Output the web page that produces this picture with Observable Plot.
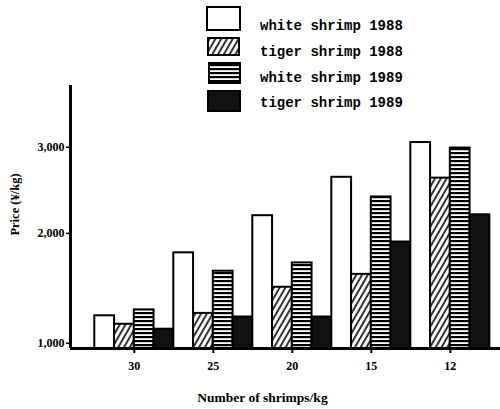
<!DOCTYPE html>
<html>
<head>
<meta charset="utf-8">
<script src="https://cdn.jsdelivr.net/npm/d3@7"></script>
<script src="https://cdn.jsdelivr.net/npm/@observablehq/plot@0.6"></script>
<style>
  body { margin: 0; background: #fff; }
  #wrap { position: relative; width: 500px; height: 409px; }
  #legend { position: absolute; left: 0; top: 0; }
</style>
</head>
<body>
<div id="wrap"></div>
<script>
// ---- data ----
const groups = ["30", "25", "20", "15", "12"];            // number of shrimps/kg
const series = ["white shrimp 1988", "tiger shrimp 1988", "white shrimp 1989", "tiger shrimp 1989"];
const white1988 = [1220, 1800, 2190, 2630, 3060];
const tiger1988 = [1150, 1240, 1470, 1590, 2620];
const white1989 = [1270, 1620, 1700, 2400, 2990];
const tiger1989 = [1110, 1210, 1210, 1910, 2200];
const yTicks = [1000, 2000, 3000];
const xLabel = "Number of shrimps/kg";
const yLabel = "Price (¥/kg)";

// ---- build table ----
const valuesBySeries = [white1988, tiger1988, white1989, tiger1989];
const rows = [];
groups.forEach((g, gi) => {
  series.forEach((s, si) => {
    rows.push({group: g, series: s, slot: gi * series.length + si, value: valuesBySeries[si][gi]});
  });
});
const tickSlots = groups.map((g, gi) => gi * series.length + series.length / 2);

const yMin = 960, yMax = 3830;
const xMin = -1.23, xMax = 20.54;
const fills = ["white", "url(#diag)", "url(#horiz)", "#111"];

const wrap = document.getElementById("wrap");

// ---- chart ----
const chart = Plot.plot({
  width: 500,
  height: 409,
  marginLeft: 70,
  marginRight: 0,
  marginTop: 85,
  marginBottom: 61,
  style: {fontFamily: "'Liberation Serif', serif", background: "white", color: "black"},
  x: {type: "linear", domain: [xMin, xMax]},
  y: {type: "pow", exponent: 0.54, domain: [yMin, yMax]},
  color: {type: "ordinal", domain: series, range: fills},
  marks: [
    Plot.rect(rows, {
      x1: d => d.slot, x2: d => d.slot + 1,
      y1: () => yMin, y2: "value",
      fill: "series", stroke: "black", strokeWidth: 2
    }),
    Plot.ruleX([xMin], {strokeWidth: 3}),
    Plot.ruleY([yMin], {strokeWidth: 3}),
    Plot.axisY({
      ticks: yTicks, tickFormat: d3.format(","), tickSize: 4, tickPadding: 2,
      fontSize: 12, fontWeight: "bold", label: null, strokeWidth: 1.5
    }),
    Plot.axisX({
      ticks: tickSlots,
      tickFormat: v => groups[Math.round((v - series.length / 2) / series.length)],
      tickSize: 5, tickPadding: 8, fontSize: 12, fontWeight: "bold", label: null, strokeWidth: 2
    }),
    Plot.text([xLabel], {
      text: d => d, frameAnchor: "bottom", lineAnchor: "middle", textAnchor: "middle",
      dx: -23, dy: 49, fontSize: 13.5, fontWeight: "bold"
    }),
    Plot.text([yLabel], {
      text: d => d, frameAnchor: "left", lineAnchor: "middle", textAnchor: "middle", rotate: -90,
      dx: -56, dy: -12.5, fontSize: 12.5, fontWeight: "bold"
    })
  ]
});
wrap.appendChild(chart);

// ---- legend (with pattern defs) ----
const leg = d3.select(wrap).append("svg")
  .attr("id", "legend").attr("width", 500).attr("height", 116);
const defs = leg.append("defs");
const pd = defs.append("pattern").attr("id", "diag")
  .attr("patternUnits", "userSpaceOnUse").attr("width", 5).attr("height", 5)
  .attr("patternTransform", "rotate(30)");
pd.append("rect").attr("width", 5).attr("height", 5).attr("fill", "white");
pd.append("line").attr("x1", 1).attr("x2", 1).attr("y1", 0).attr("y2", 5)
  .attr("stroke", "black").attr("stroke-width", 1.6);
const ph = defs.append("pattern").attr("id", "horiz")
  .attr("patternUnits", "userSpaceOnUse").attr("width", 8).attr("height", 4);
ph.append("rect").attr("width", 8).attr("height", 4).attr("fill", "white");
ph.append("rect").attr("y", 0).attr("width", 8).attr("height", 2.2).attr("fill", "black");

const boxes = [
  {x: 207, y: 7, w: 33, h: 23},
  {x: 208, y: 38, w: 31, h: 17},
  {x: 209, y: 63, w: 31, h: 20},
  {x: 208, y: 91, w: 32, h: 20}
];
const baselines = [30, 56, 81.5, 107];
series.forEach((s, i) => {
  const b = boxes[i];
  leg.append("rect").attr("x", b.x).attr("y", b.y).attr("width", b.w).attr("height", b.h)
    .attr("fill", fills[i]).attr("stroke", "black").attr("stroke-width", 2);
  leg.append("text").attr("x", 260).attr("y", baselines[i])
    .attr("font-family", "'Liberation Mono', monospace").attr("font-size", 14)
    .attr("font-weight", "bold").attr("fill", "black").text(s);
});
</script>
</body>
</html>
